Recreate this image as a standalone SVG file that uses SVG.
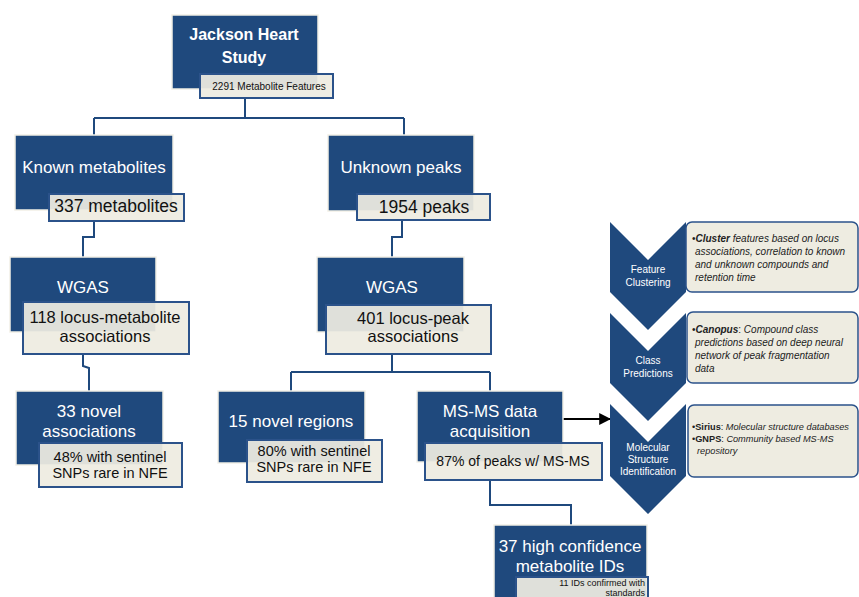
<svg xmlns="http://www.w3.org/2000/svg" width="859" height="597" viewBox="0 0 859 597">
<defs>
<style>
.box{fill:#1F497D;stroke:#F2F0E6;stroke-width:1.5}
.lab{fill:#EEECE1;fill-opacity:0.93;stroke:#2B528A;stroke-width:2}
.side{fill:#EEECE1;stroke:#2B528A;stroke-width:1.5}
.chev{fill:#1F497D}
.conn{fill:none;stroke:#1F497D;stroke-width:2}
.t{font-family:"Liberation Sans",Arial,sans-serif;text-anchor:middle}
.w{fill:#FFFFFF}
.k{fill:#111111}
.s{font-family:"Liberation Sans",Arial,sans-serif;font-size:10px;fill:#222222}
.s2{font-family:"Liberation Sans",Arial,sans-serif;font-size:9.2px;fill:#222222}
</style>
<marker id="ah" viewBox="0 0 10 10" refX="9" refY="5" markerWidth="6" markerHeight="6" orient="auto">
<path d="M0,0 L10,5 L0,10 Z" fill="#000"/>
</marker>
</defs>

<g id="connectors">
<path class="conn" d="M245,98 V118 M94,118 H404 M94,118 V135 M404,118 V135"/>
<path class="conn" d="M94,221 V237 H83 V257"/>
<path class="conn" d="M402,220 V237 H392 V257"/>
<path class="conn" d="M83,354 V366 L89,368 V391"/>
<path class="conn" d="M392,354 V372 M291,372 H490 M291,372 V391 M490,372 V391"/>
<path class="conn" d="M490,480 V505 H571 V525"/>
<line x1="563" y1="419" x2="610" y2="419" stroke="#000" stroke-width="2" marker-end="url(#ah)"/>
</g>

<g id="jhs">
<rect class="box" x="172" y="15" width="146" height="74"/>
<text class="t w" x="244" y="40" font-size="16" font-weight="bold">Jackson Heart</text>
<text class="t w" x="244" y="63" font-size="16" font-weight="bold">Study</text>
<rect class="lab" x="200" y="74" width="133" height="24"/>
<text class="t k" x="269" y="90" font-size="10">2291 Metabolite Features</text>
</g>

<g id="known">
<rect class="box" x="15" y="135" width="158" height="75"/>
<text class="t w" x="94" y="173" font-size="17">Known metabolites</text>
<rect class="lab" x="49" y="194" width="135" height="27"/>
<text class="t k" x="116" y="212" font-size="17.5">337 metabolites</text>
</g>

<g id="unknown">
<rect class="box" x="328" y="135" width="146" height="76"/>
<text class="t w" x="401" y="173" font-size="17">Unknown peaks</text>
<rect class="lab" x="357" y="194" width="133" height="26"/>
<text class="t k" x="424" y="213" font-size="17.5">1954 peaks</text>
</g>

<g id="wgas-left">
<rect class="box" x="10" y="257" width="146" height="75"/>
<text class="t w" x="83" y="293" font-size="17">WGAS</text>
<rect class="lab" x="23" y="302" width="166" height="52"/>
<text class="t k" x="105" y="323" font-size="16.5">118 locus-metabolite</text>
<text class="t k" x="105" y="342" font-size="16.5">associations</text>
</g>

<g id="wgas-right">
<rect class="box" x="317" y="257" width="147" height="75"/>
<text class="t w" x="392" y="293" font-size="17">WGAS</text>
<rect class="lab" x="326" y="305" width="165" height="49"/>
<text class="t k" x="413" y="324" font-size="16.5">401 locus-peak</text>
<text class="t k" x="413" y="342" font-size="16.5">associations</text>
</g>

<g id="novel-assoc">
<rect class="box" x="16" y="391" width="147" height="74"/>
<text class="t w" x="89" y="417" font-size="17">33 novel</text>
<text class="t w" x="89" y="437" font-size="17">associations</text>
<rect class="lab" x="39" y="443" width="143" height="44"/>
<text class="t k" x="110" y="462" font-size="14.5">48% with sentinel</text>
<text class="t k" x="110" y="478" font-size="14.5">SNPs rare in NFE</text>
</g>

<g id="novel-regions">
<rect class="box" x="218" y="391" width="147" height="72"/>
<text class="t w" x="291" y="427" font-size="17">15 novel regions</text>
<rect class="lab" x="247" y="440" width="135" height="42"/>
<text class="t k" x="314" y="456" font-size="14.5">80% with sentinel</text>
<text class="t k" x="314" y="472" font-size="14.5">SNPs rare in NFE</text>
</g>

<g id="msms">
<rect class="box" x="417" y="391" width="146" height="71"/>
<text class="t w" x="490" y="417" font-size="17">MS-MS data</text>
<text class="t w" x="490" y="437" font-size="17">acquisition</text>
<rect class="lab" x="425" y="443" width="177" height="37"/>
<text class="t k" x="513" y="466" font-size="14">87% of peaks w/ MS-MS</text>
</g>

<g id="high-conf">
<rect class="box" x="494" y="525" width="153" height="80"/>
<text class="t w" x="570" y="552" font-size="17">37 high confidence</text>
<text class="t w" x="570" y="572" font-size="17">metabolite IDs</text>
<rect class="lab" x="516" y="577" width="132" height="30"/>
<text x="645" y="586" font-family="Liberation Sans, Arial, sans-serif" font-size="9" fill="#111" text-anchor="end">11 IDs confirmed with</text>
<text x="645" y="596" font-family="Liberation Sans, Arial, sans-serif" font-size="9" fill="#111" text-anchor="end">standards</text>
</g>

<g id="feature-clustering">
<path class="chev" d="M610,222 L648,260 L686,222 V292 L648,330 L610,292 Z"/>
<text class="t w" x="648" y="273" font-size="10">Feature</text>
<text class="t w" x="648" y="286" font-size="10">Clustering</text>
<rect class="side" x="686" y="222" width="172" height="70" rx="6"/>
<text class="s" x="692" y="242">•<tspan font-weight="bold" font-style="italic">Cluster</tspan><tspan font-style="italic"> features based on locus</tspan></text>
<text class="s" x="695" y="255" font-style="italic">associations, correlation to known</text>
<text class="s" x="695" y="268" font-style="italic">and unknown compounds and</text>
<text class="s" x="695" y="281" font-style="italic">retention time</text>
</g>

<g id="class-predictions">
<path class="chev" d="M610,313 L648,351 L686,313 V383 L648,421 L610,383 Z"/>
<text class="t w" x="648" y="364" font-size="10">Class</text>
<text class="t w" x="648" y="377" font-size="10">Predictions</text>
<rect class="side" x="687" y="312" width="171" height="71" rx="6"/>
<text class="s" x="692" y="333">•<tspan font-weight="bold" font-style="italic">Canopus</tspan>:<tspan font-style="italic"> Compound class</tspan></text>
<text class="s" x="695" y="346" font-style="italic">predictions based on deep neural</text>
<text class="s" x="695" y="359" font-style="italic">network of peak fragmentation</text>
<text class="s" x="695" y="372" font-style="italic">data</text>
</g>

<g id="molecular-structure">
<path class="chev" d="M610,404 L648,442 L686,404 V476 L648,514 L610,476 Z"/>
<text class="t w" x="648" y="451" font-size="10">Molecular</text>
<text class="t w" x="648" y="463" font-size="10">Structure</text>
<text class="t w" x="648" y="475" font-size="10">Identification</text>
<rect class="side" x="688" y="405" width="170" height="72" rx="6"/>
<text class="s2" x="692" y="430">•<tspan font-weight="bold">Sirius</tspan>: <tspan font-style="italic">Molecular structure databases</tspan></text>
<text class="s2" x="692" y="442">•<tspan font-weight="bold">GNPS</tspan>: <tspan font-style="italic">Community based MS-MS</tspan></text>
<text class="s2" x="697" y="454" font-style="italic">repository</text>
</g>
</svg>
